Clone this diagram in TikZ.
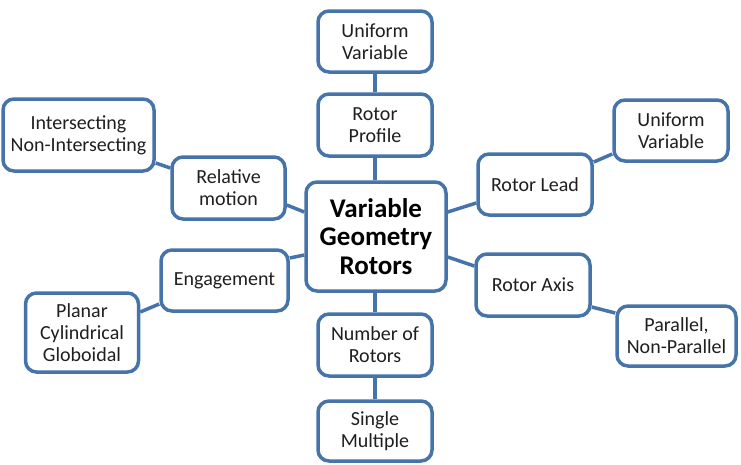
\documentclass[tikz,border=0pt]{standalone}
\usepackage{fontspec}
\setmainfont{Carlito}
\usetikzlibrary{calc}
\definecolor{edge}{RGB}{70,116,170}
\begin{document}
\begin{tikzpicture}[x=1pt,y=-1pt,
  box/.style={draw=edge, line width=3.5pt, rounded corners=11pt, fill=white,
    align=center, inner sep=0pt, font=\fontsize{20}{22}\selectfont,
    text=black!88},
  hub/.style={box, font=\fontsize{27}{28.5}\selectfont\bfseries, text=black},
  link/.style={draw=edge, line width=3.5pt}]
\useasboundingbox (0,0) rectangle (741,464);

% central topic
\node[hub, minimum width=140pt, minimum height=109pt] (c) at (376,236.5)
  {Variable\\Geometry\\Rotors};

% vertical branch
\node[box, minimum width=114pt, minimum height=61pt] (uvtop) at (375,41.5) {Uniform\\Variable};
\node[box, minimum width=114pt, minimum height=62pt] (prof) at (375,125) {Rotor\\Profile};
\node[box, minimum width=114pt, minimum height=62pt] (num) at (375,345) {Number of\\Rotors};
\node[box, minimum width=114pt, minimum height=60pt] (single) at (375,431) {Single\\Multiple};

% left branch
\node[box, minimum width=113pt, minimum height=62pt] (rel) at (228.5,188) {Relative\\motion};
\node[box, minimum width=151pt, minimum height=72pt] (inter) at (78.5,135) {Intersecting\\Non-Intersecting};
\node[box, minimum width=127pt, minimum height=61pt] (eng) at (224.5,280.5) {Engagement};
\node[box, minimum width=113pt, minimum height=79pt] (planar) at (82,332.5) {Planar\\Cylindrical\\Globoidal};

% right branch
\node[box, minimum width=114pt, minimum height=61pt] (lead) at (535,184.5) {Rotor Lead};
\node[box, minimum width=114pt, minimum height=61pt] (uvright) at (671,130.5) {Uniform\\Variable};
\node[box, minimum width=114pt, minimum height=62pt] (axis) at (533,285) {Rotor Axis};
\node[box, minimum width=119pt, minimum height=60pt] (par) at (676.5,336) {Parallel,\\Non-Parallel};

% connectors
\draw[link] (uvtop.south) -- (prof.north);
\draw[link] (prof.south) -- (prof.south |- c.north);
\draw[link] (num.north |- c.south) -- (num.north);
\draw[link] (num.south) -- (single.north);

\draw[link] ($(rel.east)+(0,17)$) -- ($(c.west)+(0,-24.5)$);
\draw[link] ($(inter.east)+(0,28)$) -- ($(rel.west)+(0,-20)$);
\draw[link] ($(eng.east)+(0,-22.5)$) -- ($(c.west)+(0,18.5)$);
\draw[link] ($(planar.east)+(0,-20.5)$) -- ($(eng.west)+(0,23.5)$);

\draw[link] ($(lead.west)+(0,18.5)$) -- ($(c.east)+(0,-24.5)$);
\draw[link] ($(uvright.west)+(0,23.5)$) -- ($(lead.east)+(0,-22.5)$);
\draw[link] ($(axis.west)+(0,-19)$) -- ($(c.east)+(0,20.5)$);
\draw[link] ($(axis.east)+(0,22)$) -- ($(par.west)+(0,-23)$);
\end{tikzpicture}
\end{document}
